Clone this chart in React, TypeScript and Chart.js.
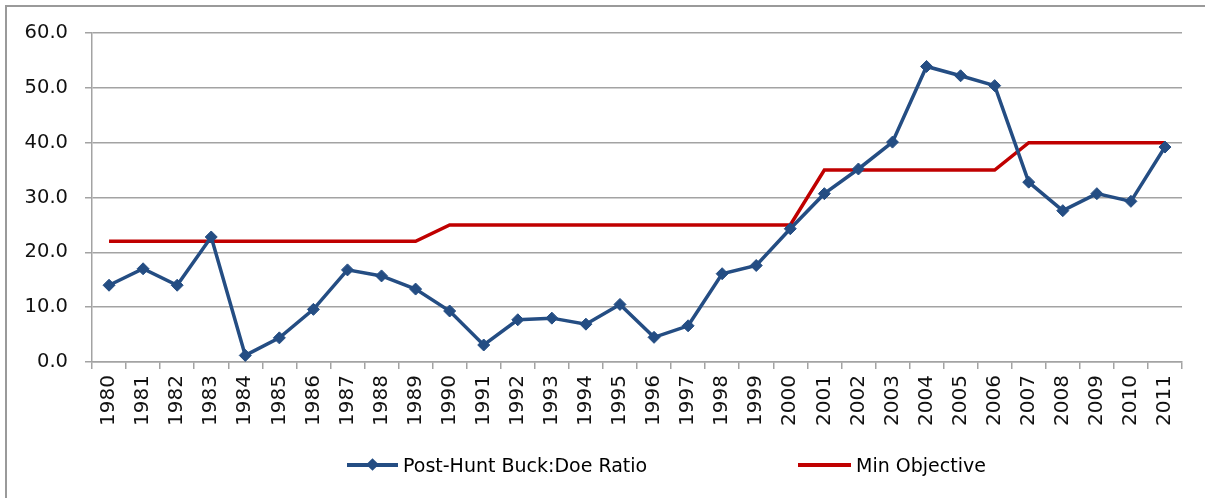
import React, { useEffect, useRef } from "react";
import { Chart, registerables } from "chart.js";

Chart.register(...registerables);

const years: string[] = [
  "1980", "1981", "1982", "1983", "1984", "1985", "1986", "1987", "1988", "1989",
  "1990", "1991", "1992", "1993", "1994", "1995", "1996", "1997", "1998", "1999",
  "2000", "2001", "2002", "2003", "2004", "2005", "2006", "2007", "2008", "2009",
  "2010", "2011",
];

const buckDoeRatio: number[] = [
  14.0, 17.0, 14.0, 22.8, 1.2, 4.4, 9.6, 16.8, 15.7, 13.3,
  9.3, 3.1, 7.7, 8.0, 6.9, 10.5, 4.5, 6.6, 16.1, 17.6,
  24.3, 30.7, 35.2, 40.1, 53.9, 52.2, 50.4, 32.8, 27.6, 30.7,
  29.3, 39.2,
];

const minObjective: number[] = [
  22, 22, 22, 22, 22, 22, 22, 22, 22, 22,
  25, 25, 25, 25, 25, 25, 25, 25, 25, 25,
  25, 35, 35, 35, 35, 35, 35, 40, 40, 40,
  40, 40,
];

const seriesNames: string[] = ["Post-Hunt Buck:Doe Ratio", "Min Objective"];
const yMin = 0;
const yMax = 60;
const yStep = 10;

const BLUE = "#244D83";
const RED = "#C00000";
const GRID = "#a3a3a3";

export default function App() {
  const ref = useRef<HTMLCanvasElement>(null);

  useEffect(() => {
    const chart = new Chart(ref.current as HTMLCanvasElement, {
      type: "line",
      data: {
        labels: years,
        datasets: [
          {
            label: seriesNames[0],
            data: buckDoeRatio,
            borderColor: BLUE,
            backgroundColor: BLUE,
            borderWidth: 3.5,
            pointStyle: "rectRot",
            pointRadius: 6,
            pointBorderWidth: 1,
            pointBackgroundColor: BLUE,
            pointBorderColor: BLUE,
            tension: 0,
          },
          {
            label: seriesNames[1],
            data: minObjective,
            borderColor: RED,
            backgroundColor: RED,
            borderWidth: 3.5,
            pointRadius: 0,
            tension: 0,
          },
        ],
      },
      options: {
        responsive: false,
        animation: false,
        devicePixelRatio: 1,
        layout: { padding: { left: 0, top: 33, right: 23, bottom: 0 } },
        plugins: {
          legend: { display: false },
          tooltip: { enabled: false },
        },
        scales: {
          x: {
            type: "category",
            offset: true,
            grid: {
              offset: true,
              drawOnChartArea: false,
              drawTicks: true,
              tickLength: 7,
              color: GRID,
              lineWidth: 1.5,
            },
            border: { color: GRID, width: 1.5 },
            ticks: {
              autoSkip: false,
              maxRotation: 90,
              minRotation: 90,
              padding: 6,
              color: "#111",
              font: { family: "'DejaVu Sans'", size: 20 },
            },
            afterFit: (s: any) => {
              s.height = 136;
            },
          },
          y: {
            min: yMin,
            max: yMax,
            grid: { color: GRID, lineWidth: 1.5, tickLength: 7 },
            border: { color: GRID, width: 1.5 },
            ticks: {
              stepSize: yStep,
              padding: 17,
              color: "#111",
              font: { family: "'DejaVu Sans'", size: 19.5 },
              callback: (v: any) => Number(v).toFixed(1),
            },
            afterFit: (s: any) => {
              s.width = 92;
            },
          },
        },
      },
    });
    return () => chart.destroy();
  }, []);

  const legendText: React.CSSProperties = {
    position: "absolute",
    top: 452,
    fontFamily: "'DejaVu Sans'",
    fontSize: 19,
    lineHeight: "26px",
    color: "#000",
    whiteSpace: "nowrap",
  };

  return (
    <div
      style={{
        position: "fixed",
        left: 0,
        top: 0,
        width: 1205,
        height: 498,
        overflow: "hidden",
        background: "#fff",
      }}
    >
      <div
        style={{
          position: "absolute",
          left: 5,
          top: 5,
          width: 1400,
          height: 700,
          border: "2px solid #9a9a9a",
        }}
      />
      <canvas
        ref={ref}
        width={1205}
        height={498}
        style={{ position: "absolute", left: 0, top: 0 }}
      />
      {/* legend */}
      <div
        style={{
          position: "absolute",
          left: 347,
          top: 463,
          width: 51,
          height: 4,
          background: BLUE,
        }}
      />
      <div
        style={{
          position: "absolute",
          left: 368,
          top: 460,
          width: 9,
          height: 9,
          background: BLUE,
          transform: "rotate(45deg)",
        }}
      />
      <div style={{ ...legendText, left: 403 }}>{seriesNames[0]}</div>
      <div
        style={{
          position: "absolute",
          left: 798,
          top: 463,
          width: 53,
          height: 4,
          background: RED,
        }}
      />
      <div style={{ ...legendText, left: 856 }}>{seriesNames[1]}</div>
    </div>
  );
}
